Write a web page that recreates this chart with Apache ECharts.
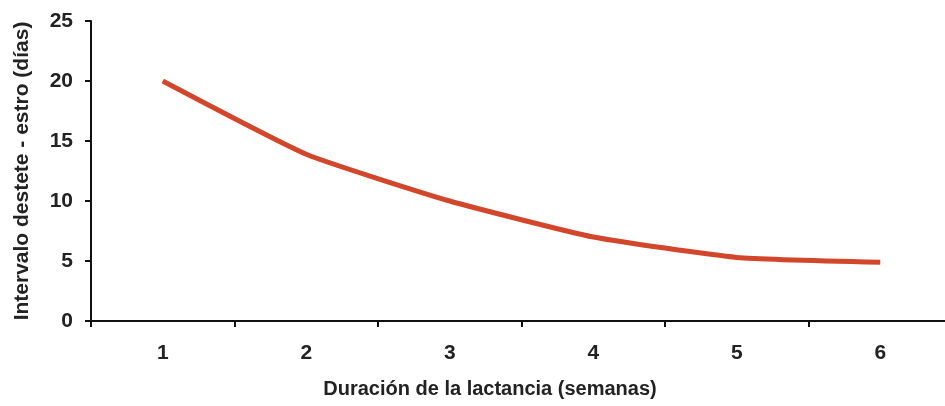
<!DOCTYPE html>
<html><head><meta charset="utf-8">
<script src="https://cdn.jsdelivr.net/npm/echarts@6/dist/echarts.min.js"></script>
<style>html,body{margin:0;padding:0;background:#fff;overflow:hidden;width:945px;height:406px}#c{width:952px;height:406px}</style>
</head><body><div id="c"></div>
<script>
var categories = ['1', '2', '3', '4', '5', '6'];
var values = [20, 13.9, 10, 7, 5.3, 4.9];
var yTicks = [0, 5, 10, 15, 20, 25];
var xTitle = 'Duración de la lactancia (semanas)';
var yTitle = 'Intervalo destete - estro (días)';

var chart = echarts.init(document.getElementById('c'), null, {renderer: 'canvas'});
var font = '"Liberation Sans", Arial, sans-serif';
chart.setOption({
  animation: false,
  backgroundColor: '#fff',
  title: {
    text: xTitle, left: 490, top: 379, textAlign: 'center', padding: 0,
    textStyle: {fontFamily: font, fontWeight: 'bold', fontSize: 20, color: '#222'}
  },
  grid: {left: 91, top: 21, right: 0, bottom: 85, containLabel: false},
  xAxis: {
    type: 'category', data: categories, boundaryGap: true,
    axisLine: {lineStyle: {color: '#111', width: 2}},
    axisTick: {show: true, length: 6, lineStyle: {color: '#111', width: 2}},
    axisLabel: {margin: 22, fontFamily: font, fontWeight: 'bold', fontSize: 21, color: '#222'}
  },
  yAxis: {
    type: 'value', min: 0, max: 25, interval: 5,
    name: yTitle, nameLocation: 'middle', nameGap: 58, nameRotate: 90,
    nameTextStyle: {fontFamily: font, fontWeight: 'bold', fontSize: 21, color: '#222'},
    axisLine: {show: true, lineStyle: {color: '#111', width: 2}},
    axisTick: {show: true, length: 6, lineStyle: {color: '#111', width: 2}},
    splitLine: {show: false},
    axisLabel: {margin: 18, fontFamily: font, fontWeight: 'bold', fontSize: 21, color: '#222',
      formatter: function (v) { return yTicks.indexOf(v) >= 0 ? String(v) : ''; }}
  },
  series: [{
    type: 'line', data: values, smooth: 0.15, symbol: 'none',
    lineStyle: {color: '#d2472c', width: 5}
  }]
});
</script></body></html>
